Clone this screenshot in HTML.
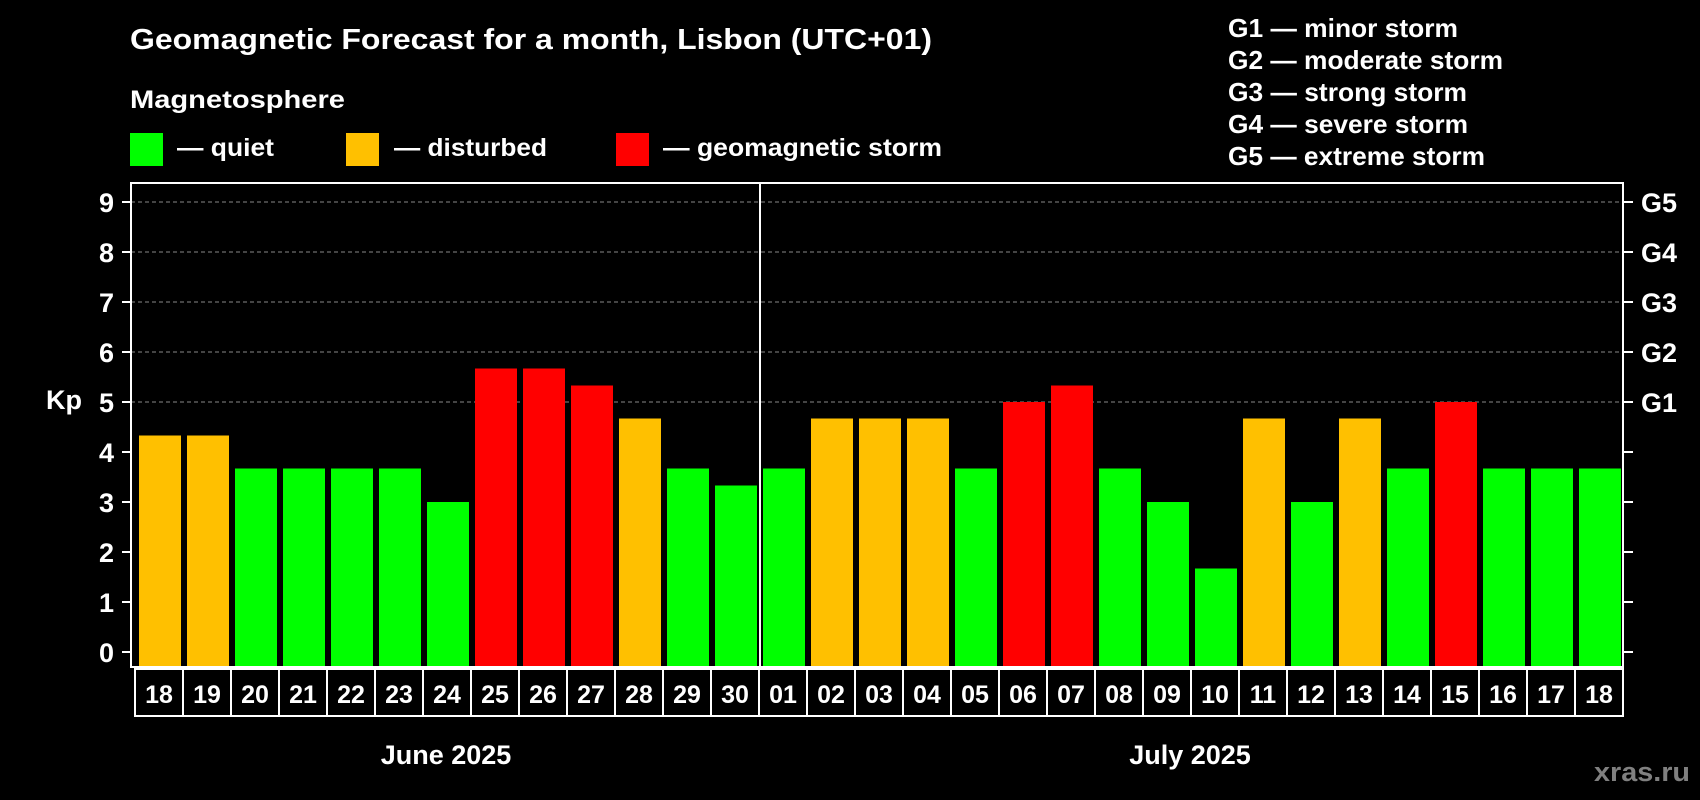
<!DOCTYPE html>
<html><head><meta charset="utf-8">
<style>
html,body{margin:0;padding:0;background:#000;}
svg{display:block;font-family:"Liberation Sans",Arial,sans-serif;font-weight:bold;}
</style></head>
<body>
<svg id="chart" width="1700" height="800" viewBox="0 0 1700 800">
<rect x="0" y="0" width="1700" height="800" fill="#000"/>
<text x="130" y="49" fill="#fff" font-size="29" textLength="802" lengthAdjust="spacingAndGlyphs">Geomagnetic Forecast for a month, Lisbon (UTC+01)</text>
<text x="130" y="108" fill="#fff" font-size="25" textLength="215" lengthAdjust="spacingAndGlyphs">Magnetosphere</text>
<g>
<rect x="130" y="133" width="33" height="33" fill="#00ff00"/>
<text x="177" y="156" fill="#fff" font-size="25" textLength="97" lengthAdjust="spacingAndGlyphs">— quiet</text></g>
<g>
<rect x="346" y="133" width="33" height="33" fill="#ffc000"/>
<text x="394" y="156" fill="#fff" font-size="25" textLength="153" lengthAdjust="spacingAndGlyphs">— disturbed</text></g>
<g>
<rect x="616" y="133" width="33" height="33" fill="#ff0000"/>
<text x="663" y="156" fill="#fff" font-size="25" textLength="279" lengthAdjust="spacingAndGlyphs">— geomagnetic storm</text></g>
<g font-size="26" fill="#fff">
<text x="1228" y="37" textLength="230" lengthAdjust="spacingAndGlyphs">G1 — minor storm</text>
<text x="1228" y="69" textLength="275" lengthAdjust="spacingAndGlyphs">G2 — moderate storm</text>
<text x="1228" y="101" textLength="239" lengthAdjust="spacingAndGlyphs">G3 — strong storm</text>
<text x="1228" y="133" textLength="240" lengthAdjust="spacingAndGlyphs">G4 — severe storm</text>
<text x="1228" y="165" textLength="257" lengthAdjust="spacingAndGlyphs">G5 — extreme storm</text>
</g>
<text x="64" y="409" fill="#fff" font-size="27" text-anchor="middle">Kp</text>
<g id="grid"></g>
<g id="bars"></g>
<g id="axes"></g>
<g id="dates"></g>
<text x="446" y="764" fill="#fff" font-size="27" text-anchor="middle">June 2025</text>
<text x="1190" y="764" fill="#fff" font-size="27" text-anchor="middle">July 2025</text>
<text x="1690" y="781" fill="#808080" font-size="27" text-anchor="end" textLength="96" lengthAdjust="spacingAndGlyphs">xras.ru</text>
</svg>
<script>
const days = ["18","19","20","21","22","23","24","25","26","27","28","29","30","01","02","03","04","05","06","07","08","09","10","11","12","13","14","15","16","17","18"];
const kpValues = [4.33,4.33,3.67,3.67,3.67,3.67,3,5.67,5.67,5.33,4.67,3.67,3.33,3.67,4.67,4.67,4.67,3.67,5,5.33,3.67,3,1.67,4.67,3,4.67,3.67,5,3.67,3.67,3.67];
const yTicks = [0,1,2,3,4,5,6,7,8,9];
const gLabels = ["G1","G2","G3","G4","G5"];
const gLevels = [5,6,7,8,9];
const monthSplit = 13;

const NS="http://www.w3.org/2000/svg";
const L=131,R=1623,T=183,B=667,Y0=652,UNIT=50,PITCH=48,BW=42,BX0=139;
const y=v=>Y0-v*UNIT;
const x=i=>BX0+i*PITCH;
function mk(tag,attrs,parent){const e=document.createElementNS(NS,tag);for(const k in attrs)e.setAttribute(k,attrs[k]);parent.appendChild(e);return e;}
const grid=document.getElementById('grid'),bars=document.getElementById('bars'),axes=document.getElementById('axes'),dates=document.getElementById('dates');
function color(v){return v>=5?"#ff0000":(v>=4?"#ffc000":"#00ff00");}
yTicks.forEach(t=>{
  if(t>=5){const g=mk('line',{x1:L,x2:R,y1:y(t),y2:y(t),stroke:'#888','stroke-width':1,'stroke-dasharray':'4 3'},grid);
  
  }
  mk('line',{x1:L-9,x2:L,y1:y(t),y2:y(t),stroke:'#fff','stroke-width':2},axes);
  mk('line',{x1:R,x2:R+10,y1:y(t),y2:y(t),stroke:'#fff','stroke-width':2},axes);
  const tl=mk('text',{x:114,y:y(t)+10,fill:'#fff','font-size':27,'text-anchor':'end'},axes);
  tl.textContent=t;
  
  
});
gLabels.forEach((g,i)=>{
  const tl=mk('text',{x:1641,y:y(gLevels[i])+10,fill:'#fff','font-size':27},axes);
  tl.textContent=g;
  
  
});
kpValues.forEach((v,i)=>{
  const r=mk('rect',{x:x(i),y:y(v),width:BW,height:B-y(v),fill:color(v)},bars);
  
  
  const c=mk('rect',{x:135+i*PITCH,y:669,width:PITCH,height:47,fill:'none',stroke:'#fff','stroke-width':2},dates);
  
  
  const t=mk('text',{x:135+i*PITCH+PITCH/2,y:703,fill:'#fff','font-size':25,'text-anchor':'middle'},dates);
  t.textContent=days[i];
  
  
});
const box=mk('rect',{x:L,y:T,width:R-L,height:B-T,fill:'none',stroke:'#fff','stroke-width':2},axes);


const sx=x(monthSplit)-3;
const sep=mk('line',{x1:sx,x2:sx,y1:T,y2:B,stroke:'#fff','stroke-width':2},axes);


</script>
</body></html>
